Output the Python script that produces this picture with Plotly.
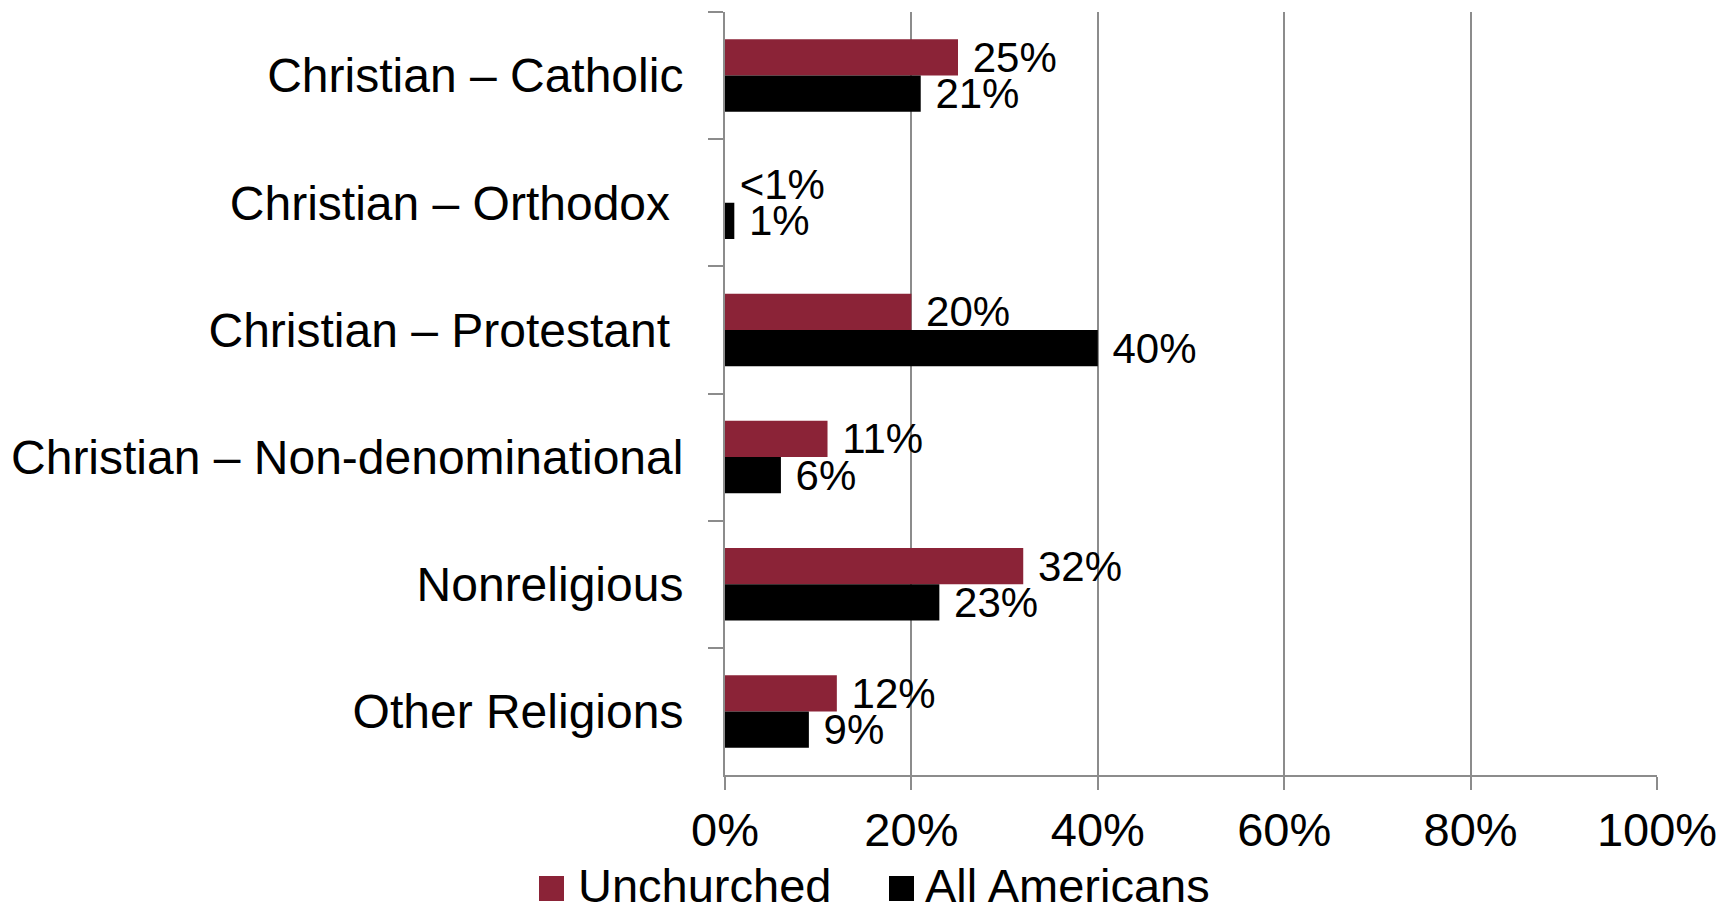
import plotly.graph_objects as go

categories = [
    "Christian – Catholic",
    "Christian – Orthodox\u00a0",
    "Christian – Protestant\u00a0",
    "Christian – Non-denominational",
    "Nonreligious",
    "Other Religions",
]
unchurched = [25, 0, 20, 11, 32, 12]
unchurched_labels = ["25%", "<1%", "20%", "11%", "32%", "12%"]
all_americans = [21, 1, 40, 6, 23, 9]
all_americans_labels = ["21%", "1%", "40%", "6%", "23%", "9%"]
x_ticks = [0, 20, 40, 60, 80, 100]
x_tick_labels = ["0%", "20%", "40%", "60%", "80%", "100%"]
series_names = ["Unchurched", "All Americans"]
series_colors = ["#8B2337", "#000000"]

W, H = 1735, 907
L, R, T, B = 725, 1657, 12, 775
FONT = "Liberation Sans, Arial, sans-serif"
GRID = "#8c8c8c"

fig = go.Figure()
for name, vals, labels, color in [
    (series_names[0], unchurched, unchurched_labels, series_colors[0]),
    (series_names[1], all_americans, all_americans_labels, series_colors[1]),
]:
    fig.add_trace(go.Bar(
        y=categories, x=vals, name=name, orientation="h",
        marker=dict(color=color, line=dict(width=0)),
        text=["\u00a0" + t for t in labels], textposition="outside",
        constraintext="none",
        textfont=dict(family=FONT, size=42, color="#000000"),
        cliponaxis=False, showlegend=False,
    ))

def px_x(p):
    return (p - L) / (R - L)

def px_y(p):
    return (B - p) / (B - T)

shapes = []
annotations = []
legend_items = [(539, 576), (889, 923)]
for (sx, tx), name, color in zip(legend_items, series_names, series_colors):
    shapes.append(dict(type="rect", xref="paper", yref="paper",
                       x0=px_x(sx), x1=px_x(sx + 25), y0=px_y(876), y1=px_y(901),
                       fillcolor=color, line=dict(width=0)))
    annotations.append(dict(xref="paper", yref="paper", x=px_x(tx), y=px_y(885),
                            text=name, showarrow=False, xanchor="left", yanchor="middle",
                            font=dict(family=FONT, size=47, color="#000000")))

fig.update_layout(
    width=W, height=H,
    margin=dict(l=L, r=W - R, t=T, b=H - B, pad=0),
    paper_bgcolor="white", plot_bgcolor="white",
    barmode="group", bargap=0.43, bargroupgap=0,
    shapes=shapes, annotations=annotations,
    xaxis=dict(
        range=[0, 100], tickvals=x_ticks, ticktext=x_tick_labels,
        showgrid=True, gridcolor=GRID, gridwidth=2,
        showline=True, linecolor=GRID, linewidth=2,
        ticks="outside", ticklen=13, tickcolor=GRID, tickwidth=2,
        tickfont=dict(family=FONT, size=47, color="#000000"),
        zeroline=False, fixedrange=True,
    ),
    yaxis=dict(
        autorange="reversed", showgrid=False,
        showline=True, linecolor=GRID, linewidth=2,
        ticks="outside", tickson="boundaries", ticklen=15, tickcolor=GRID, tickwidth=2,
        ticklabelstandoff=30,
        tickfont=dict(family=FONT, size=48, color="#000000"),
        zeroline=False, automargin=False,
    ),
)

fig.write_html(
    "out.html",
    config={"displayModeBar": False},
    post_script="document.body.style.margin='0';document.body.style.overflow='hidden';",
)
